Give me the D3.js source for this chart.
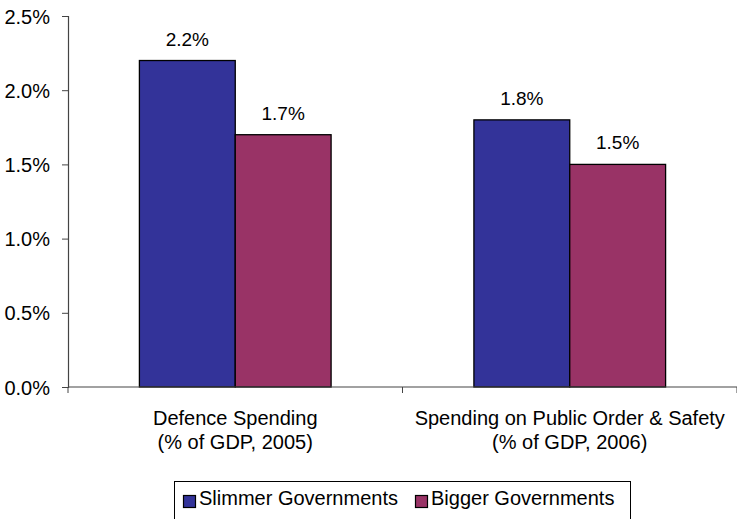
<!DOCTYPE html>
<html>
<head>
<meta charset="utf-8">
<script src="https://cdn.jsdelivr.net/npm/d3@7"></script>
<style>
  html, body { margin: 0; padding: 0; background: #fff; }
  svg { display: block; font-family: "Liberation Sans", Arial, sans-serif; }
</style>
</head>
<body>
<svg id="chart" width="737" height="519"></svg>
<script>
// Categories (two-line labels) and series values in percent of GDP
const categories = [
  ["Defence Spending", "(% of GDP, 2005)"],
  ["Spending on Public Order & Safety", "(% of GDP, 2006)"]
];
const seriesNames = ["Slimmer Governments", "Bigger Governments"];
const slimmerValues = [2.2, 1.8];
const biggerValues = [1.7, 1.5];
const yTicks = [0, 0.5, 1.0, 1.5, 2.0, 2.5];
const seriesColors = ["#333399", "#993366"];

const svg = d3.select("#chart");
const margin = { left: 68, right: 0, top: 16, bottom: 132 };
const W = 737, H = 519;
const plotBottom = H - margin.bottom; // 387

const x = d3.scaleBand()
  .domain(d3.range(categories.length))
  .range([margin.left, W - margin.right])
  .paddingInner(0)
  .paddingOuter(0);

const y = d3.scaleLinear().domain([0, 2.5]).range([plotBottom, margin.top]);

const sub = d3.scaleBand()
  .domain(d3.range(seriesNames.length))
  .range([0, x.bandwidth()])
  .paddingInner(0)
  .paddingOuter(0.745);

const data = categories.map((c, i) => [slimmerValues[i], biggerValues[i]]);

// Bars
const groups = svg.append("g").selectAll("g")
  .data(data)
  .join("g")
  .attr("transform", (d, i) => `translate(${x(i)},0)`);

groups.selectAll("rect")
  .data(d => d)
  .join("rect")
  .attr("x", (d, j) => sub(j))
  .attr("y", d => y(d))
  .attr("width", sub.bandwidth())
  .attr("height", d => y(0) - y(d))
  .attr("fill", (d, j) => seriesColors[j])
  .attr("stroke", "#000")
  .attr("stroke-width", 1.3);

// Value labels
groups.selectAll("text")
  .data(d => d)
  .join("text")
  .attr("x", (d, j) => sub(j) + sub.bandwidth() / 2)
  .attr("y", d => y(d) - 15)
  .attr("text-anchor", "middle")
  .attr("font-size", 19)
  .attr("fill", "#000")
  .text(d => d.toFixed(1) + "%");

// Y axis
const yAxis = d3.axisLeft(y)
  .tickValues(yTicks)
  .tickSize(6)
  .tickFormat(d => d.toFixed(1) + "%");
const yg = svg.append("g")
  .attr("transform", `translate(${margin.left},0)`)
  .call(yAxis);
yg.select(".domain").attr("stroke", "#444").attr("stroke-width", 1.2);
yg.selectAll(".tick line").attr("stroke", "#444");
yg.selectAll(".tick text")
  .attr("font-size", 20)
  .attr("font-family", "Liberation Sans, Arial, sans-serif")
  .attr("fill", "#000")
  .attr("x", -18)
  .attr("dy", "0.35em");

// X axis line with category dividers
svg.append("line")
  .attr("x1", margin.left).attr("x2", W)
  .attr("y1", plotBottom).attr("y2", plotBottom)
  .attr("stroke", "#444").attr("stroke-width", 1.2);
const dividers = d3.range(categories.length + 1).map(i => margin.left + i * x.bandwidth());
svg.append("g").selectAll("line")
  .data(dividers)
  .join("line")
  .attr("x1", d => d).attr("x2", d => d)
  .attr("y1", plotBottom).attr("y2", plotBottom + 6)
  .attr("stroke", "#444");

// Category labels
const catLabels = svg.append("g").selectAll("text")
  .data(categories)
  .join("text")
  .attr("text-anchor", "middle")
  .attr("font-size", 20)
  .attr("fill", "#000");
catLabels.each(function(c, i) {
  const t = d3.select(this);
  c.forEach((line, k) => {
    t.append("tspan")
      .attr("x", x(i) + x.bandwidth() / 2)
      .attr("y", 425 + k * 24)
      .text(line);
  });
});

// Legend
const legend = svg.append("g");
legend.append("rect")
  .attr("x", 174.5).attr("y", 481.5)
  .attr("width", 456).attr("height", 45)
  .attr("fill", "#fff")
  .attr("stroke", "#000").attr("stroke-width", 1);
const legendX = [183, 415];
seriesNames.forEach((name, i) => {
  legend.append("rect")
    .attr("x", legendX[i] + 0.5).attr("y", 495.5)
    .attr("width", 12).attr("height", 12)
    .attr("fill", seriesColors[i])
    .attr("stroke", "#000").attr("stroke-width", 1.2);
  legend.append("text")
    .attr("x", legendX[i] + 16).attr("y", 505)
    .attr("font-size", 20)
    .attr("fill", "#000")
    .text(name);
});
</script>
</body>
</html>
